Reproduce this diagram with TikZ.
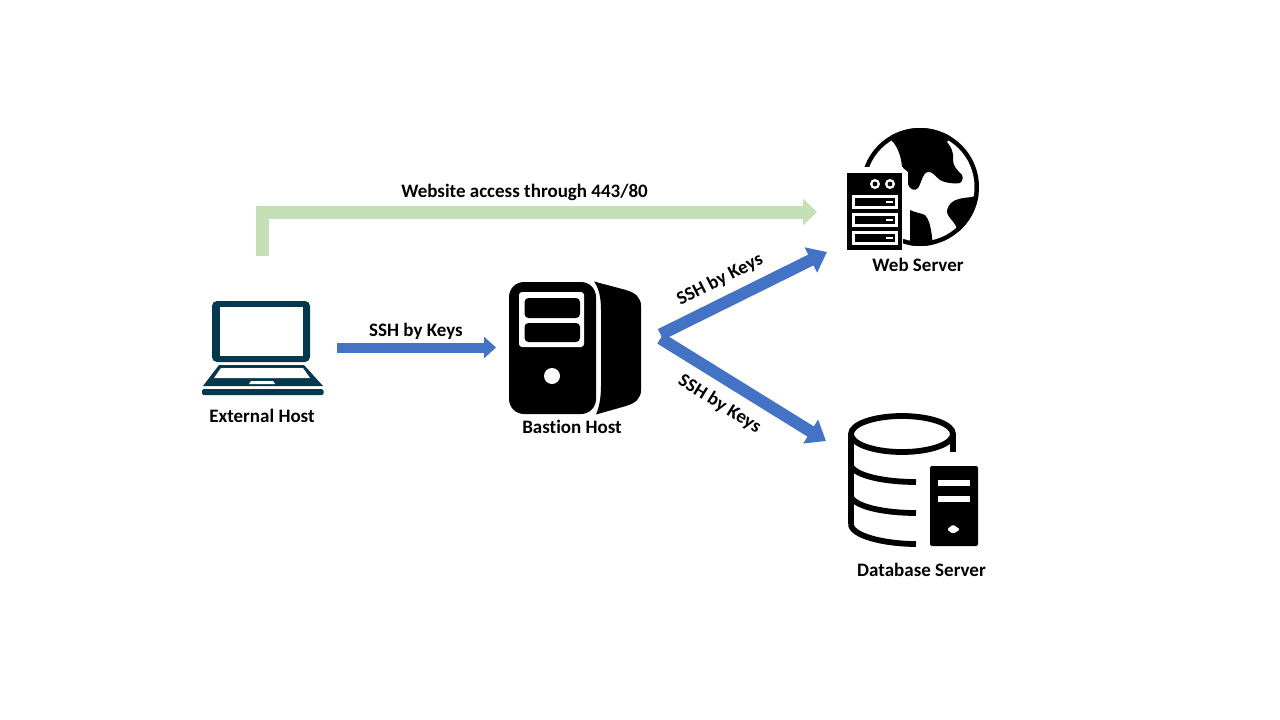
\documentclass[tikz,border=0pt]{standalone}
\usepackage{fontspec}
\setmainfont[Ligatures=NoCommon]{Carlito}
\usetikzlibrary{arrows.meta}
\definecolor{arrowblue}{HTML}{4472C4}
\definecolor{arrowgreen}{HTML}{C5E0B4}
\definecolor{laptopcol}{HTML}{03384F}
\tikzset{
  lbl/.style={font=\bfseries\fontsize{19}{22}\selectfont,text=black,inner sep=0pt},
  bigblue/.style={draw=arrowblue,line width=12pt,-{Triangle[length=18pt,width=27pt]}},
  midblue/.style={draw=arrowblue,line width=10pt,-{Triangle[length=12pt,width=21pt]}},
  greenarrow/.style={draw=arrowgreen,line width=13pt,miter limit=10,-{Triangle[length=14pt,width=26pt]}},
  dbline/.style={draw=black,line width=5.8pt}
}
\begin{document}
\begin{tikzpicture}[x=1pt,y=-1pt]
\useasboundingbox (0,0) rectangle (1280,720);
\fill[white] (0,0) rectangle (1280,720);

% Laptop
\fill[laptopcol,rounded corners=5pt] (212,301) rectangle (310,362);
\fill[white] (219.5,307) rectangle (303,356);
\fill[laptopcol] (219,365) -- (304,365) -- (323,386) -- (203,386) -- cycle;
\fill[white] (221,368) -- (303,368) -- (310,378) -- (214,378) -- cycle;
\fill[white] (251,381) -- (273,381) -- (275,384) -- (249,384) -- cycle;
\fill[laptopcol,rounded corners=1.5pt] (202,389) rectangle (323.5,395);

% Bastion
\fill[black,rounded corners=15pt] (509,282) rectangle (596,414);
\fill[white,rounded corners=3pt] (519,292) rectangle (584,347);
\fill[black,rounded corners=4pt] (524.5,298) rectangle (580,318);
\fill[black,rounded corners=4pt] (524.5,323) rectangle (580,342);
\fill[white] (552,376) circle (8);
\fill[black] (594,281.5) .. controls (599,288) and (601,298) .. (601,310) -- (601,386) .. controls (601,398) and (599,408) .. (596,414.5)
  -- (626,406) .. controls (636,403) and (641,398) .. (641,390) -- (641,306) .. controls (641,298) and (636,293) .. (626,290) -- cycle;

% Web server globe
\fill[black] (920,187) circle (59);
\fill[white] (920,187) circle (54.5);
\begin{scope}
\clip (920,187) circle (59);
\fill[black] (885,125) -- (892,141) .. controls (897,146) and (901,155) .. (902,167)
  -- (908,172) -- (908,184) .. controls (909,189) and (915,192) .. (918,188)
  .. controls (921,184) and (923,172) .. (928,172) .. controls (932,171) and (935,176) .. (940,180)
  .. controls (945,183) and (955,184) .. (960,183) .. controls (963,181) and (963,177) .. (962,175)
  .. controls (957,170) and (953,166) .. (953,160) .. controls (954,152) and (951,147) .. (947,142)
  -- (965,120) -- cycle;
\fill[black] (985,192) -- (972,197) .. controls (962,198) and (955,199) .. (951,203)
  .. controls (947,207) and (946,212) .. (948,215) .. controls (951,220) and (956,224) .. (957,229)
  -- (970,255) -- (995,220) -- cycle;
\fill[black] (910,210) .. controls (916,213) and (921,213) .. (925,215)
  .. controls (929,219) and (931,228) .. (932,237) -- (934,255) -- (910,255) -- cycle;
\end{scope}
\fill[white] (842,167) rectangle (903,256);
\fill[black] (847,173) rectangle (902,250);
\foreach \cx in {875,890} {\fill[white] (\cx,184) circle (5); \fill[black] (\cx,184) circle (2.4);}
\foreach \ry in {195,213,231} {
  \fill[white] (852,\ry) rectangle (898,\ry+13.5);
  \fill[black] (855,\ry+3) rectangle (895,\ry+11);
  \fill[white] (886,\ry+6) rectangle (893,\ry+8);
}

% Database
\draw[dbline] (902,434) ellipse (51 and 18);
\draw[dbline] (851,434) -- (851,524);
\draw[dbline] (953,434) -- (953,452);
\draw[dbline] (851,466) .. controls (856,476) and (885,482) .. (916,482);
\draw[dbline] (851,497) .. controls (856,507) and (885,513) .. (916,513);
\draw[dbline] (851,524) .. controls (851,536) and (885,544) .. (916,544);
\fill[black,rounded corners=2pt] (930,466) rectangle (978,546);
\fill[white] (938,480) rectangle (970,486);
\fill[white] (938,496) rectangle (970,502);
\fill[white,rounded corners=1.5pt] (947,529.5) -- (953,524.5) -- (960,529.5) -- (953,534) -- cycle;

% Named connector ends
\coordinate (gstart) at (262,256);
\coordinate (gbend) at (262,212);
\coordinate (gend) at (817,212);
\coordinate (extout) at (337,347.5);
\coordinate (basin) at (496,347.5);
\coordinate (basoutA) at (660.5,334.5);
\coordinate (webin) at (827,252);
\coordinate (basoutB) at (660.5,338.5);
\coordinate (dbin) at (826,441);

% Connectors
\draw[greenarrow] (gstart) -- (gbend) -- (gend);
\draw[midblue] (extout) -- (basin);
\draw[bigblue] (basoutA) -- (webin);
\draw[bigblue] (basoutB) -- (dbin);

% Labels
\node[lbl] (lweb) at (524.5,192) {Website access through 443/80};
\node[lbl] (lssh) at (416,331) {SSH by Keys};
\node[lbl,rotate=27] (lsshA) at (720,280) {SSH by Keys};
\node[lbl,rotate=-32] (lsshB) at (719.5,404) {SSH by Keys};
\node[lbl] (next) at (262,416) {External Host};
\node[lbl] (nbas) at (572,427) {Bastion Host};
\node[lbl] (nweb) at (918,265) {Web Server};
\node[lbl] (ndb) at (921.5,570) {Database Server};
\end{tikzpicture}
\end{document}
